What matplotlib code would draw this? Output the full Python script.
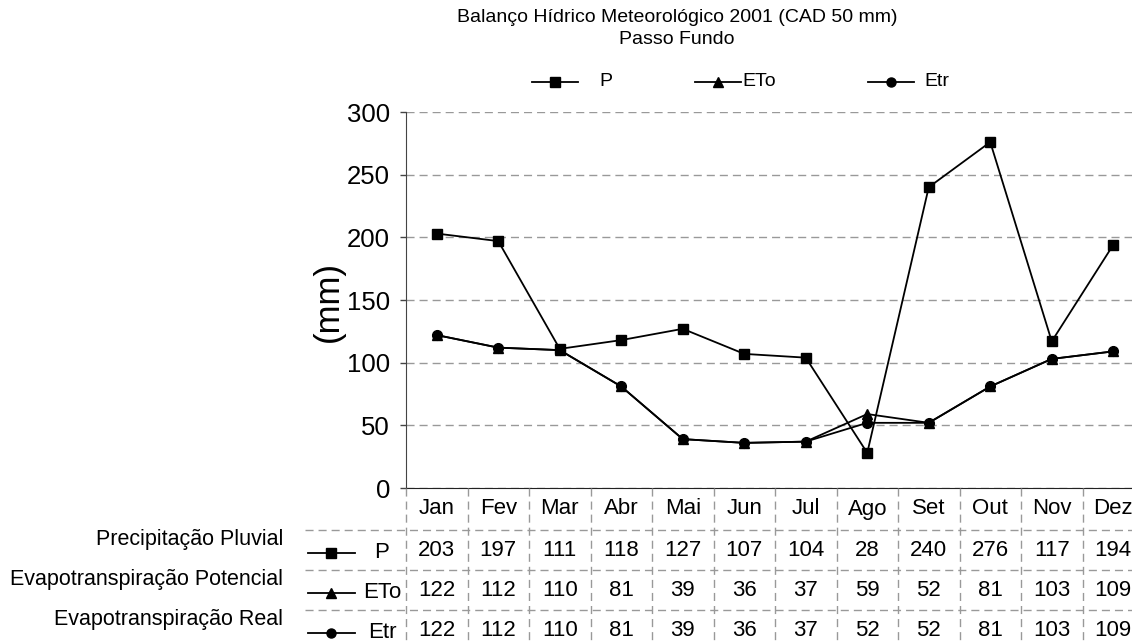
import matplotlib.pyplot as plt
from matplotlib.lines import Line2D
from matplotlib.transforms import blended_transform_factory
import numpy as np

plt.rcParams['font.family'] = ['Liberation Sans', 'DejaVu Sans']

# data
meses = ["Jan", "Fev", "Mar", "Abr", "Mai", "Jun", "Jul", "Ago", "Set", "Out", "Nov", "Dez"]
P = [203, 197, 111, 118, 127, 107, 104, 28, 240, 276, 117, 194]
ETo = [122, 112, 110, 81, 39, 36, 37, 59, 52, 81, 103, 109]
Etr = [122, 112, 110, 81, 39, 36, 37, 52, 52, 81, 103, 109]

series_names = ["P", "ETo", "Etr"]
series_long = ["Precipitação Pluvial", "Evapotranspiração Potencial", "Evapotranspiração Real"]
series_vals = [P, ETo, Etr]
markers = ["s", "^", "o"]
msizes = [7.5, 7.5, 7]

W, H = 1132, 643
fig = plt.figure(figsize=(W / 100, H / 100), dpi=100)

def fx(px):
    return px / W

def fy(py):
    return 1 - py / H

# main axes in pixel layout (right edge runs past the figure like the original)
ax = fig.add_axes([fx(406), fy(488), fx(738), 376 / H])
x = np.arange(len(meses))
for vals, m, ms in zip(series_vals, markers, msizes):
    ax.plot(x, vals, color="black", lw=1.3, marker=m, ms=ms, zorder=3)

ax.set_xlim(-0.5, len(meses) - 0.5)
ax.set_ylim(0, 300)
ax.set_yticks(range(0, 301, 50))
ax.set_xticks([])
ax.yaxis.grid(True, color="#999999", lw=1, linestyle=(0, (5.8, 3.6)))
ax.set_axisbelow(True)
for s in ["top", "right"]:
    ax.spines[s].set_visible(False)
ax.spines["left"].set_color("#444444")
ax.spines["bottom"].set_color("#222222")
ax.tick_params(axis="y", length=4.5, width=1, color="#444444", pad=7, labelsize=18.5)

fig.text(fx(328), fy(301), "(mm)", rotation=90, ha="center", va="center", fontsize=25)

# title
fig.text(fx(677), fy(17), "Balanço Hídrico Meteorológico 2001 (CAD 50 mm)", ha="center", va="center", fontsize=14)
fig.text(fx(677), fy(39), "Passo Fundo", ha="center", va="center", fontsize=14)

# top legend
leg_x = [532, 695, 868]
for lx, name, m, ms in zip(leg_x, series_names, markers, msizes):
    fig.add_artist(Line2D([fx(lx), fx(lx + 46)], [fy(82), fy(82)], color="black", lw=1.3,
                          transform=fig.transFigure))
    fig.add_artist(Line2D([fx(lx + 23)], [fy(82)], color="black", marker=m, ms=ms - 0.5,
                          transform=fig.transFigure))
leg_tx = [599, 742, 924]
for tx, name in zip(leg_tx, series_names):
    fig.text(fx(tx), fy(82), name, ha="left", va="center", fontsize=14)

# data table
tr = blended_transform_factory(ax.transData, fig.transFigure)
grid_kw = dict(color="#999999", lw=1, linestyle=(0, (5.8, 3.6)), clip_on=False)
for i in range(len(meses) + 1):
    fig.add_artist(Line2D([i - 0.5, i - 0.5], [fy(488), fy(660)], transform=tr, **grid_kw))
for py in [530, 570, 610]:
    fig.add_artist(Line2D([fx(305), fx(1150)], [fy(py), fy(py)], transform=fig.transFigure, **grid_kw))

for i, mes in enumerate(meses):
    fig.text(i, fy(509), mes, transform=tr, ha="center", va="center", fontsize=16)

row_y = [551, 591, 631]
for ry, name, longname, vals, m, ms in zip(row_y, series_names, series_long, series_vals, markers, msizes):
    for i, v in enumerate(vals):
        fig.text(i, fy(ry), str(v), transform=tr, ha="center", va="center", fontsize=16)
    fig.add_artist(Line2D([fx(308), fx(355)], [fy(ry + 2), fy(ry + 2)], color="black", lw=1.3,
                          transform=fig.transFigure))
    fig.add_artist(Line2D([fx(331)], [fy(ry + 2)], color="black", marker=m, ms=ms - 0.5,
                          transform=fig.transFigure))
    fig.text(fx(382), fy(ry + 1), name, ha="center", va="center", fontsize=16)
    fig.text(fx(283), fy(ry - 11), longname, ha="right", va="center", fontsize=15.5)

fig.savefig("out.png", dpi=100)
